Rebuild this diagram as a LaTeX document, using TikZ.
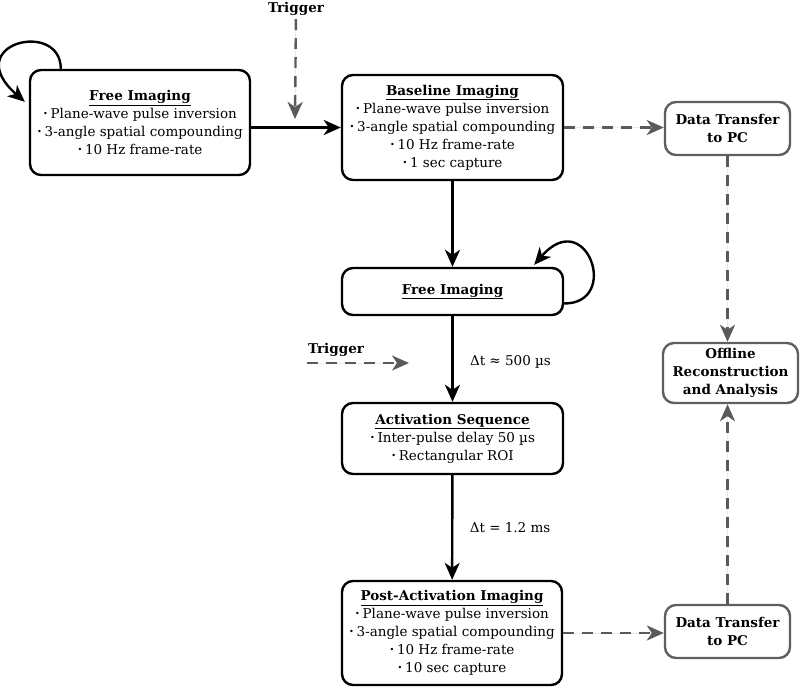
\documentclass[tikz,border=0pt]{standalone}
\usepackage{fontspec}
\setmainfont{DejaVu Serif}
\usetikzlibrary{arrows.meta}

\definecolor{boxgray}{HTML}{5F5F5F}
\definecolor{linkgray}{HTML}{5A5A5A}

\newcommand{\bul}{\raisebox{0.25ex}{\scalebox{0.6}{\textbullet}}\hspace{0.2em}}
\newcommand{\blocktitle}[1]{\underline{\textbf{#1}}}

\begin{document}
\begin{tikzpicture}[x=1pt, y=1pt, >={Stealth[length=17pt,width=15pt,inset=5pt]},
    font=\fontsize{13.5}{18}\selectfont]

    \tikzset{%
    block/.style={
        draw,
        line width=2.4pt,
        rounded corners=11pt,
        align=center,
        inner sep=0pt
        },
    pc block/.style={
        block,
        draw=boxgray,
        font=\fontsize{13.5}{18}\selectfont\bfseries
        },
    flow/.style={->, line width=2.4pt},
    data link/.style={
        ->,
        line width=2.4pt,
        draw=linkgray,
        fill=linkgray,
        dash pattern=on 11pt off 8pt
        },
    trigger/.style={font=\fontsize{13.5}{18}\selectfont\bfseries},
    }

    \useasboundingbox (0,0) rectangle (800,-689);

    % Imaging blocks
    \node [block, minimum width=220pt, minimum height=105pt] (free-1) at (140,-122.5)
    {\blocktitle{Free Imaging}\\ \bul Plane-wave pulse inversion\\
     \bul 3-angle spatial compounding\\ \bul 10 Hz frame-rate};

    \node [block, minimum width=221pt, minimum height=105pt] (base) at (452.5,-127.5)
    {\blocktitle{Baseline Imaging}\\ \bul Plane-wave pulse inversion\\
     \bul 3-angle spatial compounding\\ \bul 10 Hz frame-rate\\ \bul 1 sec capture};

    \node [block, minimum width=221pt, minimum height=47pt] (free-2) at (452.5,-291.5)
    {\blocktitle{Free Imaging}};

    \node [block, minimum width=221pt, minimum height=71pt] (act) at (452.5,-438.5)
    {\blocktitle{Activation Sequence}\\ \bul Inter-pulse delay 50 µs\\
     \bul Rectangular ROI};

    \node [block, minimum width=220pt, minimum height=104pt] (post) at (452,-633)
    {\blocktitle{Post-Activation Imaging}\\ \bul Plane-wave pulse inversion\\
     \bul 3-angle spatial compounding\\ \bul 10 Hz frame-rate\\ \bul 10 sec capture};

    % Data blocks
    \foreach \m/\y in {1/-128.5, 2/-631.5}
    \node [pc block, minimum width=125pt, minimum height=53pt] (xfer-\m) at (727.5,\y)
    {Data Transfer\\to PC};

    \node [pc block, minimum width=135pt, minimum height=60pt] (offline) at (730.5,-373)
    {Offline\\Reconstruction\\and Analysis};

    % Trigger labels
    \node [trigger] (trig-1) at (296,-9) {Trigger};
    \coordinate (trig-1-end) at (295,-119);
    \node [trigger] (trig-2) at (336,-350) {Trigger};
    \coordinate (trig-2-start) at (307,-363);
    \coordinate (trig-2-end) at (409,-363);

    % Main sequence
    \draw [flow] (free-1.east |- base.west) -- (base.west);
    \draw [flow] (base) -- (free-2);
    \draw [flow] (free-2) -- node [right=13pt, midway, yshift=-3pt] {Δt ≈ 500 µs} (act);
    \draw [flow] (act) -- node [right=13pt, midway] {Δt = 1.2 ms} (post);

    % Free imaging loops
    \draw [flow] ([xshift=32pt]free-1.north west) .. controls +(0,50) and +(-66,58) .. ([xshift=-4pt,yshift=-33pt]free-1.north west);
    \draw [flow] ([yshift=-12pt]free-2.east) .. controls +(57,0) and +(52,60) .. ([xshift=-30pt,yshift=2pt]free-2.north east);

    % Triggers
    \draw [data link] (trig-1) -- (trig-1-end);
    \draw [data link] (trig-2-start) -- (trig-2-end);

    % Data transfer
    \foreach \a/\b in {base/xfer-1, post/xfer-2}
    \draw [data link] (\a.east) -- (\a.east -| \b.west);
    \draw [data link] (xfer-1.south) -- (xfer-1.south |- offline.north);
    \draw [data link] (xfer-2.north) -- (xfer-2.north |- offline.south);

\end{tikzpicture}
\end{document}
